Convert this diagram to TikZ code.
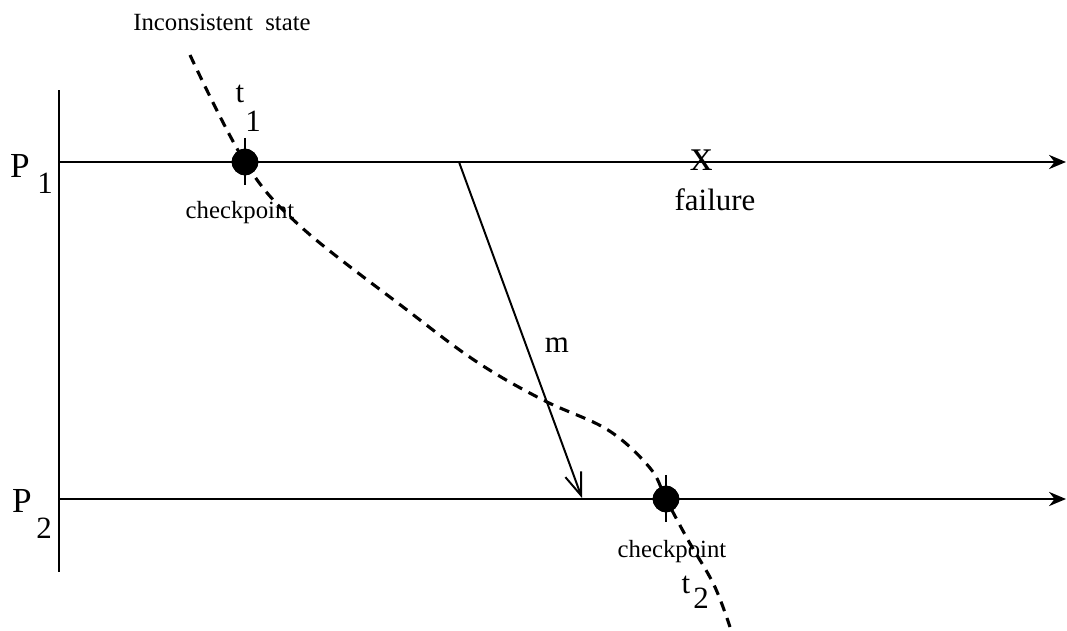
\documentclass[tikz,border=0pt]{standalone}
\usepackage{fontspec}
\setmainfont{Liberation Serif}
\usetikzlibrary{positioning, arrows.meta}

\begin{document}
\begin{tikzpicture}[x=0.0125cm, y=-0.0125cm, line width=1pt,
    >={Stealth[length=6pt, width=5pt]},
    ckpt/.style={circle, fill=black, inner sep=0pt, minimum size=0.33cm},
    lbl/.style={font=\fontsize{11}{13}\selectfont, inner sep=0pt},
    smalltext/.style={font=\fontsize{8.8}{10}\selectfont, inner sep=0pt},
    cut/.style={line width=1.1pt, dash pattern=on 3.6pt off 2.6pt}]
  \useasboundingbox (0,0) rectangle (1067,631);
  % Axis and processes
  \draw (59,90) -- (59,572);
  \coordinate (p1s) at (59,162);
  \coordinate (p1e) at (1066,162);
  \coordinate (p2s) at (59,499);
  \coordinate (p2e) at (1066,499);
  \draw[->] (p1s) -- (p1e);
  \draw[->] (p2s) -- (p2e);
  \node[lbl, font=\fontsize{12.5}{14}\selectfont] (P1) at (20,166) {P};
  \node[lbl] (P1idx) at (45,183) {1};
  \node[lbl, font=\fontsize{12.5}{14}\selectfont] (P2) at (22,501) {P};
  \node[lbl] (P2idx) at (44,528) {2};
  % Checkpoints
  \node[ckpt] (cp1) at (245,162) {};
  \node[ckpt] (cp2) at (666,499) {};
  \foreach \c in {cp1, cp2}{
    \draw ([yshift=0.3cm]\c.center) -- ([yshift=-0.29cm]\c.center);
  }
  \node[smalltext] (ck1) at (240,213) {checkpoint};
  \node[smalltext] (ck2) at (672,552) {checkpoint};
  \node[lbl] (t1) at (240,94) {t};
  \node[lbl] (t1idx) at (253,121) {1};
  \node[lbl] (t2) at (686,585) {t};
  \node[lbl] (t2idx) at (701,598) {2};
  % Message
  \coordinate (msend) at (459,162);
  \coordinate (mrecv) at (582,498);
  \draw[line width=0.7pt, -{Straight Barb[length=8pt, width=6pt]}] (msend) -- (mrecv);
  \node[lbl] (m) at (557,345) {m};
  % Failure
  \node[lbl, font=\fontsize{16}{18}\selectfont] (fail) at (702,160) {x};
  \node[lbl] (failtxt) at (715,200) {failure};
  % Inconsistent cut
  \draw[cut] plot[smooth, tension=0.6] coordinates {(190,55) (cp1.center)
    (300,226) (407,310) (477,362) (543,400) (608,430) (650,468)
    (cp2.center) (688,540) (714,585) (730,627)};
  \node[smalltext] (inc) at (222,22) {Inconsistent\ \ state};
  \foreach \c in {cp1, cp2}{
    \node[ckpt] at (\c) {};
  }
\end{tikzpicture}
\end{document}
